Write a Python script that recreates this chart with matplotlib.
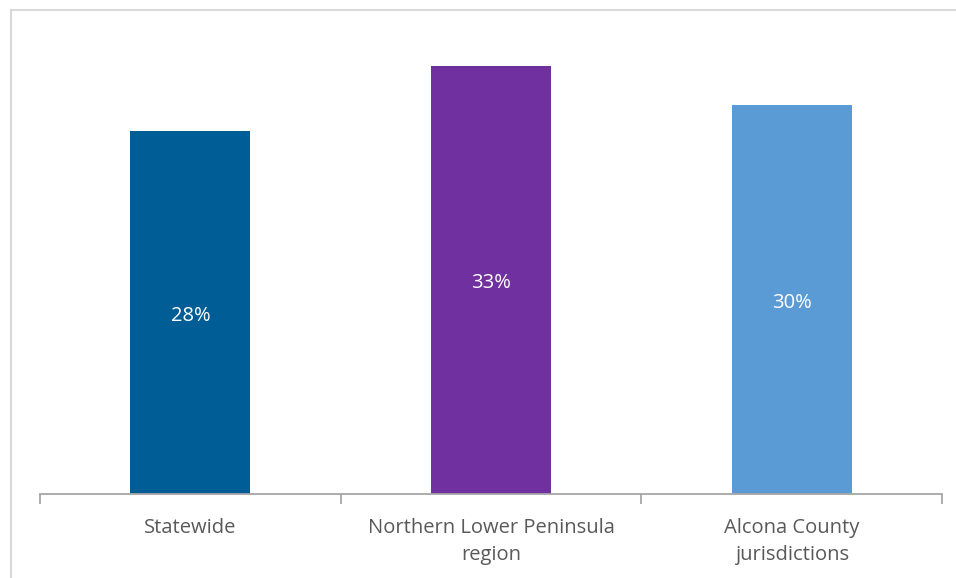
import matplotlib
matplotlib.use("Agg")
import matplotlib.pyplot as plt
from matplotlib.lines import Line2D

categories = ["Statewide", "Northern Lower Peninsula\nregion", "Alcona County\njurisdictions"]
values = [28, 33, 30]
colors = ["#005D96", "#7030A0", "#5B9BD5"]

W, H = 956, 578
fig = plt.figure(figsize=(W / 100, H / 100), dpi=100)
plt.rcParams["font.family"] = ["Open Sans", "DejaVu Sans"]

# axes placed in pixel terms: left 40, right 942, baseline 494, top 20
ax = fig.add_axes([40 / W, (H - 494) / H, 902 / W, 474 / H])
x = range(len(values))
bars = ax.bar(x, values, width=0.4, color=colors)
ax.set_xlim(-0.5, 2.5)
ax.set_ylim(0, 474 / 12.97)

for b, v in zip(bars, values):
    ax.annotate(f"{v}%", (b.get_x() + b.get_width() / 2, v / 2), xytext=(0, -2.5),
                textcoords="offset points", ha="center", va="center",
                color="white", fontsize=14.5)

ax.set_xticks(list(x))
ax.set_xticklabels(categories, fontsize=14.5, color="#595959", linespacing=1.5)
ax.set_xticks([-0.5, 0.5, 1.5, 2.5], minor=True)
ax.tick_params(axis="x", which="major", length=0, pad=17)
ax.tick_params(axis="x", which="minor", length=7, color="#A6A6A6", width=1.3)
ax.set_yticks([])
for s in ["top", "right", "left"]:
    ax.spines[s].set_visible(False)
ax.spines["bottom"].set_color("#A6A6A6")
ax.spines["bottom"].set_linewidth(1.3)

# light frame around the chart area (cut at right and bottom)
fig.add_artist(Line2D([11 / W, 1], [1 - 9.5 / H, 1 - 9.5 / H], color="#D9D9D9", lw=1.5,
                      transform=fig.transFigure))
fig.add_artist(Line2D([11 / W, 11 / W], [0, 1 - 9.5 / H], color="#D9D9D9", lw=1.5,
                      transform=fig.transFigure))

fig.savefig("out.png", dpi=100)
